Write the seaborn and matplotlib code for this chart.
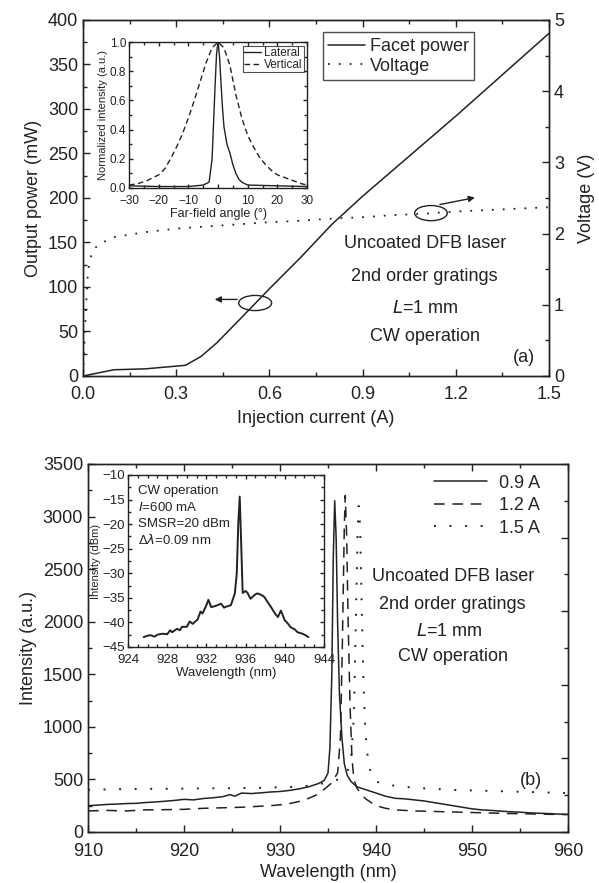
import numpy as np
import matplotlib
matplotlib.use("Agg")
import matplotlib.pyplot as plt
from matplotlib.patches import Ellipse
from matplotlib.ticker import MultipleLocator
import seaborn as sns

# ---- panel (a): L-I-V ----
current = [0.0, 0.1, 0.2, 0.33, 0.38, 0.43, 0.5, 0.6, 0.7, 0.8, 0.9, 1.0,
           1.1, 1.2, 1.3, 1.4, 1.5]
facet_power = [0, 7, 8, 12, 22, 37, 62, 98, 133, 170, 202, 232,
               262, 292, 323, 354, 385]
v_current = [0.0, 0.005, 0.01, 0.015, 0.02, 0.03, 0.05, 0.1, 0.2, 0.3, 0.4,
             0.5, 0.6, 0.7, 0.8, 0.9, 1.0, 1.1, 1.2, 1.3, 1.4, 1.5]
voltage = [0.0, 0.5, 1.0, 1.4, 1.6, 1.75, 1.85, 1.95, 2.02, 2.07, 2.1,
           2.13, 2.16, 2.18, 2.21, 2.23, 2.26, 2.28, 2.31, 2.33, 2.35, 2.37]

# far-field inset
ff_angle_v = [-30, -27, -24, -20, -18, -16, -14, -12, -10, -8, -6, -4, -2, 0,
              2, 4, 6, 8, 10, 12, 14, 16, 18, 20, 24, 28, 30]
ff_vertical = [0.02, 0.03, 0.05, 0.09, 0.13, 0.20, 0.28, 0.37, 0.48, 0.60,
               0.73, 0.86, 0.96, 1.0, 0.96, 0.84, 0.64, 0.48, 0.36, 0.28,
               0.21, 0.16, 0.12, 0.09, 0.06, 0.03, 0.02]
ff_angle_l = [-30, -20, -10, -5, -3, -2, -1.5, -1, -0.5, 0, 0.5, 1, 1.5, 2,
              3, 4, 5, 6, 7, 8, 9, 10, 20, 30]
ff_lateral = [0.015, 0.01, 0.01, 0.02, 0.04, 0.2, 0.45, 0.7, 0.92, 1.0, 0.9,
              0.72, 0.55, 0.42, 0.3, 0.24, 0.16, 0.1, 0.06, 0.04, 0.03, 0.02,
              0.015, 0.01]

# ---- panel (b): spectra ----
wl_09 = [910, 911, 912, 913, 914, 915, 916, 917, 918, 919, 920, 921, 922, 923,
         924, 924.8, 925.3, 926, 927, 928, 929, 930, 931, 932, 933, 934,
         934.6, 935.0, 935.2, 935.4, 935.55, 935.7, 935.85, 936.0, 936.2,
         936.45, 936.7, 937.0, 937.4, 938, 939, 940, 941, 942, 943, 944, 945,
         946, 947, 948, 949, 950, 951, 952, 953, 954, 955, 956, 957, 958, 959,
         960]
int_09 = [250, 255, 262, 265, 270, 272, 280, 285, 292, 300, 310, 305, 318, 325,
          335, 355, 340, 370, 365, 372, 380, 385, 395, 410, 430, 460,
          490, 560, 800, 1500, 2600, 3150, 2800, 2000, 1300,
          900, 650, 540, 480, 430, 400, 370, 340, 320, 315, 305, 295,
          280, 265, 250, 235, 220, 210, 205, 198, 192, 188, 182, 178, 175, 170,
          168]
wl_12 = [910, 912, 914, 916, 918, 920, 922, 924, 926, 928, 929, 930, 931, 932,
         933, 934, 934.8, 935.3, 936.0, 936.3, 936.5, 936.7, 936.8, 936.95,
         937.1, 937.3, 937.5, 937.7, 938, 938.5, 939, 940, 941, 942, 944, 946,
         948, 950, 952, 954, 956, 958, 960]
int_12 = [200, 205, 200, 210, 212, 215, 225, 230, 235, 245, 250, 258, 270, 290,
          320, 360, 420, 460, 560, 900, 1800, 2900, 3200, 2800,
          2000, 1200, 700, 500, 420, 350, 310, 250, 225, 210, 200, 195,
          190, 185, 180, 175, 172, 168, 165]
wl_15 = [910, 912, 914, 916, 918, 920, 922, 924, 926, 928, 930, 932, 933, 934,
         935, 935.8, 936.5, 937, 937.4, 937.7, 937.9, 938.1, 938.2, 938.35,
         938.5, 938.7, 938.9, 939.2, 939.6, 940, 941, 942, 944, 946, 948, 950,
         952, 954, 956, 958, 960]
int_15 = [400, 405, 408, 410, 410, 412, 415, 415, 418, 420, 425, 430, 440, 455,
          470, 490, 520, 560, 700, 1100, 2000, 2900, 3100, 2900,
          2200, 1400, 950, 650, 520, 480, 450, 440, 420, 410, 400, 395,
          390, 385, 380, 375, 370]

# optical spectrum inset
osa_wl = [925.6, 926.0, 926.3, 926.7, 927.0, 927.5, 928.0, 928.3, 928.5,
          929.0, 929.3, 929.5, 930.0, 930.3, 930.6, 931.1, 931.4, 931.6,
          932.0, 932.2, 932.5, 933.0, 933.5, 933.8, 934.0, 934.5, 934.9,
          935.1, 935.25, 935.4, 935.55, 935.7, 936.0, 936.2, 936.5, 936.7,
          937.0, 937.2, 937.6, 937.9, 938.3, 938.6, 939.0, 939.3, 939.6,
          940.0, 940.3, 940.6, 941.0, 941.3, 941.8, 942.2, 942.4]
osa_db = [-43.0, -42.7, -42.6, -42.9, -42.5, -42.3, -42.4, -41.6, -42.0,
          -41.3, -41.6, -40.9, -40.9, -39.8, -40.3, -39.4, -37.8, -38.2,
          -36.5, -35.4, -36.9, -36.6, -36.2, -37.0, -36.8, -36.5, -34.1,
          -30.0, -20.0, -14.4, -24.0, -34.0, -33.6, -34.0, -35.2, -34.8,
          -34.3, -34.1, -34.4, -34.8, -36.0, -36.9, -38.2, -38.9, -37.6,
          -39.6, -40.2, -41.0, -41.4, -42.0, -42.3, -42.7, -43.0]

sns.set_style("ticks")
plt.rcParams["font.family"] = ["Liberation Sans", "DejaVu Sans"]
plt.rcParams["axes.linewidth"] = 1.0
plt.rcParams["xtick.direction"] = "in"
plt.rcParams["ytick.direction"] = "in"

INK = "#222222"
FS = 13
fig = plt.figure(figsize=(5.99, 8.83), dpi=100)


def style_ticks(ax, size=FS, xpad=7):
    ax.tick_params(which="major", length=5, width=1, labelsize=size,
                   colors=INK)
    ax.tick_params(which="minor", length=3, width=1)
    ax.tick_params(axis="x", pad=xpad)
    for s in ax.spines.values():
        s.set_color(INK)


def curve(ax, x, y, **kw):
    sns.lineplot(x=x, y=y, ax=ax, color=INK, estimator=None, sort=False, **kw)


# ---------------- panel (a) ----------------
ax1 = fig.add_axes([0.1386, 0.5742, 0.778, 0.4032])
curve(ax1, current, facet_power, lw=1.1, label="Facet power")
ax1.set_xlim(0, 1.5)
ax1.set_ylim(0, 400)
ax1.xaxis.set_major_locator(MultipleLocator(0.3))
ax1.xaxis.set_minor_locator(MultipleLocator(0.15))
ax1.yaxis.set_major_locator(MultipleLocator(50))
ax1.yaxis.set_minor_locator(MultipleLocator(25))
ax1.tick_params(which="both", top=True)
ax1.set_xticks(np.arange(0, 1.51, 0.3))
ax1.set_xticklabels(["0.0", "0.3", "0.6", "0.9", "1.2", "1.5"])
style_ticks(ax1)
ax1.set_xlabel("Injection current (A)", fontsize=FS, color=INK, labelpad=5)
ax1.set_ylabel("Output power (mW)", fontsize=FS, color=INK, labelpad=4)

ax1r = ax1.twinx()
curve(ax1r, v_current, voltage, lw=1.3, linestyle=(0, (1, 5)))
ax1r.set_ylim(0, 5)
ax1r.yaxis.set_major_locator(MultipleLocator(1))
ax1r.yaxis.set_minor_locator(MultipleLocator(0.5))
style_ticks(ax1r)
ax1r.set_ylabel("Voltage (V)", fontsize=FS, color=INK, labelpad=10)

h1 = ax1.get_lines()[0]
h2 = ax1r.get_lines()[0]
leg = ax1.legend([h1, h2], ["Facet power", "Voltage"], loc="upper left",
                 bbox_to_anchor=(0.515, 0.965), fontsize=FS, frameon=True,
                 fancybox=False, edgecolor=INK, handlelength=2.0,
                 borderpad=0.3, labelspacing=0.15, handletextpad=0.3,
                 borderaxespad=0)
leg.get_frame().set_linewidth(1.0)

for txt, y in [("Uncoated DFB laser", 149), ("2nd order gratings", 112),
               ("CW operation", 44)]:
    ax1.text(1.10, y, txt, ha="center", va="center", fontsize=FS, color=INK)
ax1.text(1.10, 76, "$L$=1 mm", ha="center", va="center", fontsize=FS,
         color=INK)
ax1.text(1.42, 21, "(a)", ha="center", va="center", fontsize=FS, color=INK)

ax1.add_patch(Ellipse((0.554, 82), 0.106, 17, fill=False, ec=INK, lw=1.0))
ax1.annotate("", xy=(0.415, 86), xytext=(0.505, 86),
             arrowprops=dict(arrowstyle="-|>", color=INK, lw=1.0,
                             mutation_scale=9))
ax1.add_patch(Ellipse((1.12, 183), 0.105, 17, fill=False, ec=INK, lw=1.0))
ax1.annotate("", xy=(1.27, 201), xytext=(1.14, 192),
             arrowprops=dict(arrowstyle="-|>", color=INK, lw=1.0,
                             mutation_scale=9))

# far-field inset
axi = fig.add_axes([0.2154, 0.7871, 0.2972, 0.1653])
curve(axi, ff_angle_l, ff_lateral, lw=1.0, label="Lateral")
curve(axi, ff_angle_v, ff_vertical, lw=1.0, linestyle=(0, (4, 2.5)),
      label="Vertical")
axi.set_xlim(-30, 30)
axi.set_ylim(0, 1.0)
axi.xaxis.set_major_locator(MultipleLocator(10))
axi.xaxis.set_minor_locator(MultipleLocator(5))
axi.yaxis.set_major_locator(MultipleLocator(0.2))
axi.yaxis.set_minor_locator(MultipleLocator(0.1))
axi.tick_params(which="both", top=True, right=True)
style_ticks(axi, size=8.5, xpad=5)
axi.tick_params(which="major", length=3)
axi.tick_params(axis="y", pad=2)
axi.tick_params(which="minor", length=2)
axi.set_xlabel("Far-field angle (°)", fontsize=9, color=INK, labelpad=1)
axi.set_ylabel("Normalized intensity (a.u.)", fontsize=8, color=INK,
               labelpad=1)
li = axi.legend(loc="upper right", fontsize=8.5, frameon=True, fancybox=False,
                edgecolor=INK, handlelength=1.5, borderpad=0.1,
                labelspacing=0.0, handletextpad=0.2, borderaxespad=0.3)
li.get_frame().set_linewidth(0.8)

# ---------------- panel (b) ----------------
ax2 = fig.add_axes([0.1469, 0.0578, 0.8013, 0.4168])
curve(ax2, wl_09, int_09, lw=1.1, label="0.9 A")
curve(ax2, wl_12, int_12, lw=1.1, linestyle=(0, (7, 5)), label="1.2 A")
curve(ax2, wl_15, int_15, lw=1.4, linestyle=(0, (1, 7)), label="1.5 A")
ax2.set_xlim(910, 960)
ax2.set_ylim(0, 3500)
ax2.xaxis.set_major_locator(MultipleLocator(10))
ax2.xaxis.set_minor_locator(MultipleLocator(5))
ax2.yaxis.set_major_locator(MultipleLocator(500))
ax2.yaxis.set_minor_locator(MultipleLocator(250))
ax2.tick_params(which="both", top=True)
style_ticks(ax2, xpad=8)
ax2.set_xlabel("Wavelength (nm)", fontsize=FS, color=INK, labelpad=3)
ax2.set_ylabel("Intensity (a.u.)", fontsize=FS, color=INK, labelpad=4)
ax2.legend(loc="upper right", bbox_to_anchor=(0.965, 1.0), fontsize=FS,
           frameon=False, handlelength=2.9, handletextpad=0.7,
           labelspacing=0.3, borderaxespad=0.2)

ax2r = ax2.twinx()
ax2r.set_ylim(0, 3500)
ax2r.yaxis.set_major_locator(MultipleLocator(700))
ax2r.yaxis.set_minor_locator(MultipleLocator(350))
ax2r.tick_params(labelright=False)
style_ticks(ax2r)

for txt, y in [("Uncoated DFB laser", 2425), ("2nd order gratings", 2160),
               ("CW operation", 1665)]:
    ax2.text(948.0, y, txt, ha="center", va="center", fontsize=FS, color=INK)
ax2.text(947.6, 1905, "$L$=1 mm", ha="center", va="center", fontsize=FS,
         color=INK)
ax2.text(956.1, 494, "(b)", ha="center", va="center", fontsize=FS, color=INK)

# spectrum inset
axs = fig.add_axes([0.2137, 0.2673, 0.3272, 0.1948])
curve(axs, osa_wl, osa_db, lw=1.4)
axs.set_xlim(924, 944)
axs.set_ylim(-45, -10)
axs.xaxis.set_major_locator(MultipleLocator(4))
axs.xaxis.set_minor_locator(MultipleLocator(1))
axs.yaxis.set_major_locator(MultipleLocator(5))
axs.yaxis.set_minor_locator(MultipleLocator(2.5))
axs.tick_params(which="both", top=True, right=True)
style_ticks(axs, size=9.5, xpad=5)
axs.tick_params(which="major", length=3)
axs.tick_params(axis="y", pad=2)
axs.tick_params(which="minor", length=2)
axs.set_xlabel("Wavelength (nm)", fontsize=9.5, color=INK, labelpad=1)
axs.set_ylabel("Intensity (dBm)", fontsize=8, color=INK, labelpad=1)
osa_notes = ["CW operation", "$I$=600 mA", "SMSR=20 dBm",
             "Δ$\\lambda$=0.09 nm"]
for i, t in enumerate(osa_notes):
    axs.text(0.05, 0.905 - i * 0.095, t, transform=axs.transAxes,
             fontsize=9.5, color=INK, va="center", ha="left")

fig.savefig("out.png", dpi=100)
